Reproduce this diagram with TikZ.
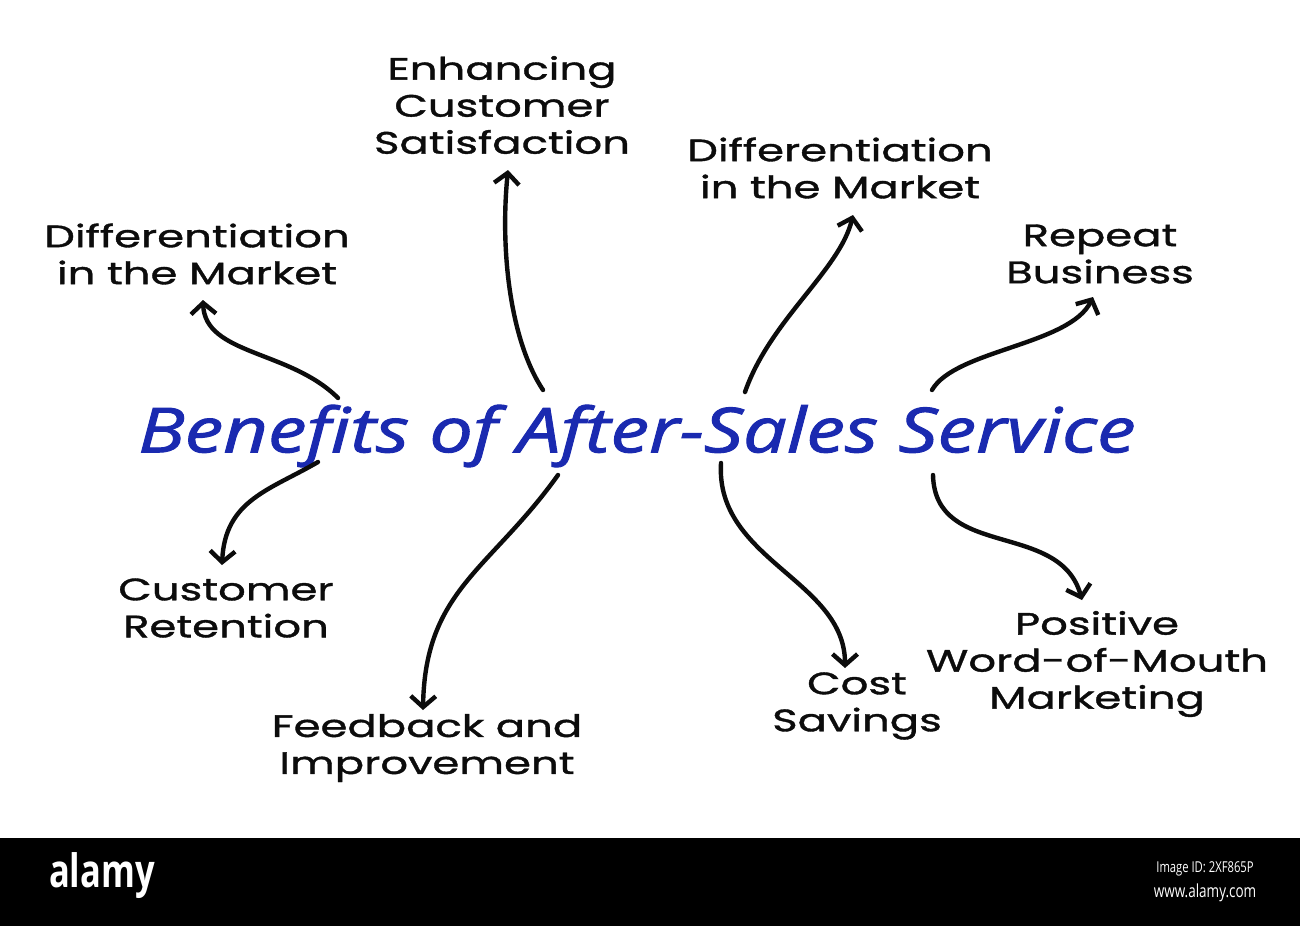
\documentclass[tikz,border=0pt]{standalone}
\usepackage{fontspec}
\setmainfont{Poppins}
\newfontfamily\lblfont{Poppins}[FakeStretch=1.4,FakeBold=1.2]
\newfontfamily\titlefont{Open Sans}[FakeStretch=1.25,ItalicFeatures={FakeBold=1.6},ItalicFont={* Italic}]
\newfontfamily\bandfont{Open Sans}[FakeStretch=0.75]
\usetikzlibrary{arrows.meta}
\definecolor{titleblue}{RGB}{26,42,176}
\definecolor{ink}{RGB}{12,12,12}
\tikzset{
  lbl/.style={align=center, text=ink, inner sep=0pt, font=\lblfont\fontsize{31}{37}\selectfont},
  conn/.style={draw=ink, line width=4.4pt, line cap=round, line join=round,
    -{Straight Barb[length=11pt,width=25pt,line width=4.4pt]}},
}
\begin{document}
\begin{tikzpicture}[x=1pt,y=-1pt]
\useasboundingbox (0,0) rectangle (1300,926);
\fill[white] (0,0) rectangle (1300,926);

% title
\node[inner sep=0pt, text=titleblue, font=\titlefont\itshape\fontsize{62}{66}\selectfont] (title) at (637,436) {Benefits of After-Sales Service};

% labels
\node[lbl] (enh) at (502,105) {Enhancing\\Customer\\Satisfaction};
\node[lbl] (rdiff) at (840,168) {Differentiation\\in the Market};
\node[lbl] (ldiff) at (197,254) {Differentiation\\in the Market};
\node[lbl] (rep) at (1100,254) {Repeat\\Business};
\node[lbl] (ret) at (226,608) {Customer\\Retention};
\node[lbl] (feed) at (427,748) {Feedback and\\Improvement};
\node[lbl] (cost) at (857,706) {Cost\\Savings};
\node[lbl] (wom) at (1097,664) {Positive\\Word-of-Mouth\\Marketing};

% connector ends
\coordinate (s1) at (338,398); \coordinate (t1) at (203,300);
\coordinate (s2) at (543,390); \coordinate (t2) at (508,170);
\coordinate (s3) at (745,392); \coordinate (t3) at (853,215);
\coordinate (s4) at (932,390); \coordinate (t4) at (1093,297);
\coordinate (s5) at (318,462); \coordinate (t5) at (222,565);
\coordinate (s6) at (558,475); \coordinate (t6) at (423,710);
\coordinate (s7) at (721,463); \coordinate (t7) at (845,668);
\coordinate (s8) at (933,475); \coordinate (t8) at (1082,600);

\draw[conn] (s1) .. controls (290,350) and (205,355) .. (t1);
\draw[conn] (s2) .. controls (510,340) and (500,250) .. (t2);
\draw[conn] (s3) .. controls (770,320) and (840,270) .. (t3);
\draw[conn] (s4) .. controls (955,350) and (1070,345) .. (t4);
\draw[conn] (s5) .. controls (270,490) and (225,500) .. (t5);
\draw[conn] (s6) .. controls (490,570) and (425,590) .. (t6);
\draw[conn] (s7) .. controls (715,560) and (845,580) .. (t7);
\draw[conn] (s8) .. controls (935,560) and (1060,520) .. (t8);

% bottom band
\fill[black] (0,838) rectangle (1300,926);
\node[text=white, inner sep=0pt, font=\bandfont\bfseries\fontsize{46}{46}\selectfont] (alamy) at (102,876) {alamy};
\node[text=white, inner sep=0pt, font=\bandfont\fontsize{15}{15}\selectfont] (imgid) at (1205,869) {Image ID: 2XF865P};
\node[text=white, inner sep=0pt, font=\bandfont\fontsize{18}{18}\selectfont] (www) at (1205,893) {www.alamy.com};
\end{tikzpicture}
\end{document}
